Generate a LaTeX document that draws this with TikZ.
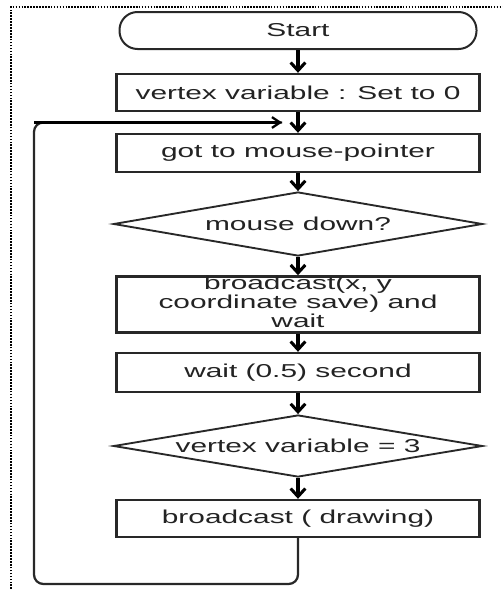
\documentclass[tikz,border=0pt]{standalone}
\usepackage{graphicx}
\usepackage{fontspec}
\setmainfont{Liberation Sans}
\usepackage{tikz}
\usetikzlibrary{shapes.geometric,arrows.meta,calc}
\definecolor{lineblack}{RGB}{40, 40, 40}
\definecolor{textblack}{RGB}{35, 35, 35}
\newcommand{\wtext}[1]{\scalebox{1.6}[1]{#1}}

\begin{document}
\begin{tikzpicture}[
        x=0.75pt, y=0.75pt,
        every node/.style={font=\fontsize{14}{13}\selectfont, text=textblack},
        terminal/.style={rectangle, rounded corners=13.5pt, draw=lineblack, line width=1.5pt, fill=white, minimum width=267.75pt, minimum height=27.75pt, inner sep=0pt},
        process/.style={rectangle, draw=lineblack, line width=1.8pt, fill=white, minimum width=272.25pt, inner sep=0pt},
        decision/.style={diamond, aspect=6, draw=lineblack, line width=1.4pt, fill=white, minimum width=276.75pt, inner sep=0pt},
        flow/.style={-{Straight Barb[length=6pt, width=11pt]}, line width=2.3pt, color=black},
        loopflow/.style={line width=1.7pt, color=lineblack},
        looptip/.style={-{Straight Barb[length=6pt, width=8pt]}, line width=1.7pt, color=black},
        border/.style={densely dotted, line width=1.2pt, color=black}
    ]
    \useasboundingbox (0,0) rectangle (503,-589);

    % Frame
    \coordinate (framebl) at (11,-589);
    \coordinate (frametl) at (11,-7);
    \coordinate (frametr) at (503,-7);
    \draw[border] (framebl) -- (frametl) -- (frametr);

    % Steps
    \node[terminal] (start) at (298,-30.5) {\wtext{Start}};
    \node[process, minimum height=27.75pt] (setvar) at (298,-92.5) {\wtext{vertex variable : Set to 0}};
    \node[process, minimum height=28.5pt] (gotomouse) at (298,-153) {\wtext{got to mouse-pointer}};
    \node[decision, minimum height=48pt] (mousedown) at (298,-224) {\wtext{mouse down?}};
    \node[process, minimum height=38.25pt] (bcastxy) at (298,-304.5) {\wtext{\begin{tabular}{@{}c@{}}broadcast(x, y\\ coordinate save) and\\ wait\end{tabular}}};
    \node[process, minimum height=29.25pt] (waithalf) at (298,-372.5) {\wtext{wait (0.5) second}};
    \node[decision, minimum height=46.5pt] (vertexthree) at (298,-446) {\wtext{vertex variable = 3}};
    \node[process, minimum height=27.75pt] (drawing) at (298,-518.5) {\wtext{broadcast ( drawing)}};

    % Flows
    \draw[flow] (start) -- (setvar);
    \draw[flow] (setvar) -- (gotomouse);
    \draw[flow] (gotomouse) -- (mousedown);
    \draw[flow] (mousedown) -- (bcastxy);
    \draw[flow] (bcastxy) -- (waithalf);
    \draw[flow] (waithalf) -- (vertexthree);
    \draw[flow] (vertexthree) -- (drawing);

    % Loop back
    \coordinate (join) at ($(setvar.south)!0.5!(gotomouse.north)$);
    \coordinate (loopend) at ([xshift=-12pt]join);
    \coordinate (loopbl) at (34,-584);
    \draw[loopflow, rounded corners=7pt] (drawing.south) |- (loopbl) -- (loopbl |- loopend) [sharp corners] -- (loopend);
    \draw[looptip] (loopbl |- loopend) -- (loopend);

\end{tikzpicture}
\end{document}
